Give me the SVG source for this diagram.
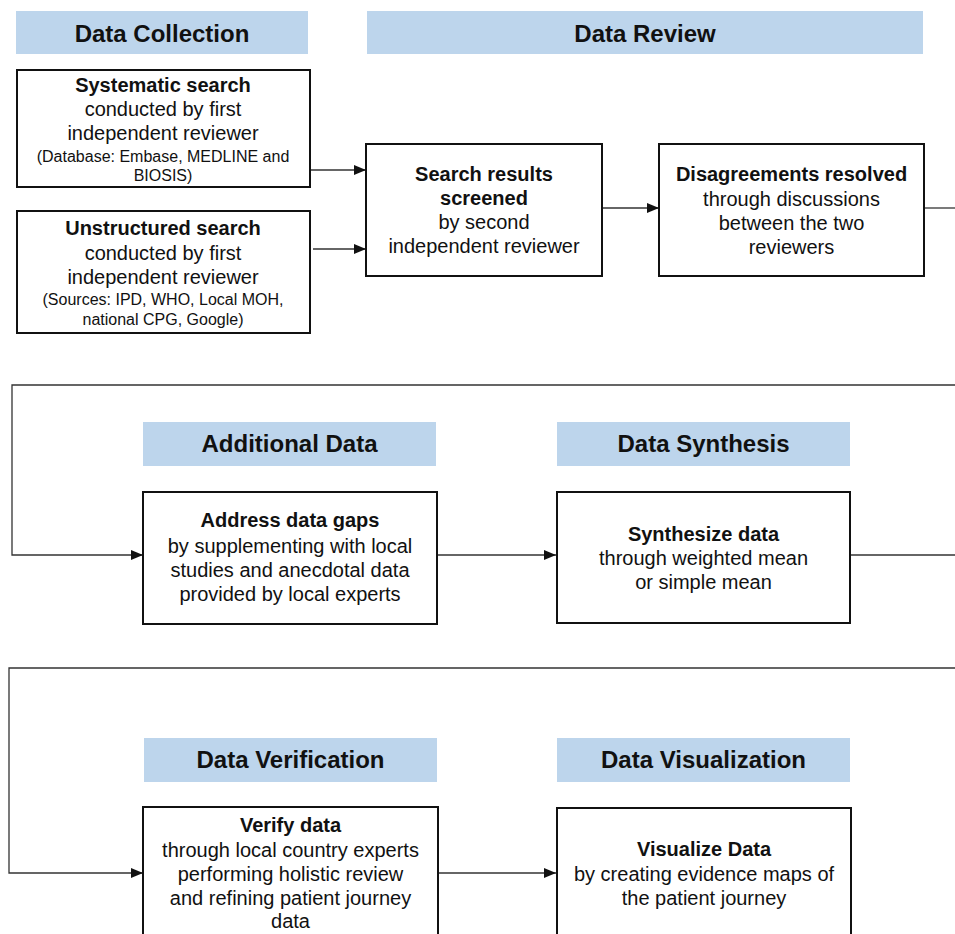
<svg xmlns="http://www.w3.org/2000/svg" width="955" height="934" viewBox="0 0 955 934">
<style>
.bn{fill:#bdd5ec;stroke:none}
.bx{fill:#fff;stroke:#111;stroke-width:2}
text{font-family:"Liberation Sans",Arial,sans-serif;fill:#111;text-anchor:middle}
.h{font-size:24px;font-weight:bold}
.t{font-size:20px;font-weight:bold}
.r{font-size:20px}
.s{font-size:16px}
.c{fill:none;stroke:#333;stroke-width:1.3}
</style>
<defs>
<marker id="ah" markerUnits="userSpaceOnUse" markerWidth="12" markerHeight="12" refX="12" refY="6" orient="auto">
<path d="M0,1 L12,6 L0,11 z" fill="#111"/>
</marker>
</defs>
<rect width="955" height="934" fill="#fff"/>
<g id="connectors">
<path class="c" d="M310,170 H366" marker-end="url(#ah)"/>
<path class="c" d="M313,249 H366" marker-end="url(#ah)"/>
<path class="c" d="M602,208 H659" marker-end="url(#ah)"/>
<path class="c" d="M924,208 H955"/>
<path class="c" d="M955,385 H12 V555 H143" marker-end="url(#ah)"/>
<path class="c" d="M437,555 H556" marker-end="url(#ah)"/>
<path class="c" d="M850,555 H955"/>
<path class="c" d="M955,668 H9 V873 H143" marker-end="url(#ah)"/>
<path class="c" d="M438,873 H556" marker-end="url(#ah)"/>
</g>
<g id="hdr-collection">
<rect class="bn" x="16" y="11" width="292" height="43"/>
<text class="h" x="162" y="42">Data Collection</text>
</g>
<g id="hdr-review">
<rect class="bn" x="367" y="11" width="556" height="43"/>
<text class="h" x="645" y="42">Data Review</text>
</g>
<g id="systematic">
<rect class="bx" x="17" y="70" width="293" height="117"/>
<text class="t" x="163" y="92">Systematic search</text>
<text class="r" x="163" y="116">conducted by first</text>
<text class="r" x="163" y="140">independent reviewer</text>
<text class="s" x="163" y="162">(Database: Embase, MEDLINE and</text>
<text class="s" x="163" y="181">BIOSIS)</text>
</g>
<g id="unstructured">
<rect class="bx" x="17" y="211" width="293" height="122"/>
<text class="t" x="163" y="235">Unstructured search</text>
<text class="r" x="163" y="260">conducted by first</text>
<text class="r" x="163" y="284">independent reviewer</text>
<text class="s" x="163" y="305">(Sources: IPD, WHO, Local MOH,</text>
<text class="s" x="163" y="325">national CPG, Google)</text>
</g>
<g id="screened">
<rect class="bx" x="366" y="144" width="236" height="132"/>
<text class="t" x="484" y="181">Search results</text>
<text class="t" x="484" y="205">screened</text>
<text class="r" x="484" y="229">by second</text>
<text class="r" x="484" y="253">independent reviewer</text>
</g>
<g id="disagreements">
<rect class="bx" x="659" y="144" width="265" height="132"/>
<text class="t" x="791.5" y="181">Disagreements resolved</text>
<text class="r" x="791.5" y="206">through discussions</text>
<text class="r" x="791.5" y="230">between the two</text>
<text class="r" x="791.5" y="254">reviewers</text>
</g>
<g id="hdr-additional">
<rect class="bn" x="143" y="422" width="293" height="44"/>
<text class="h" x="289.5" y="452">Additional Data</text>
</g>
<g id="address">
<rect class="bx" x="143" y="492" width="294" height="132"/>
<text class="t" x="290" y="527">Address data gaps</text>
<text class="r" x="290" y="553">by supplementing with local</text>
<text class="r" x="290" y="577">studies and anecdotal data</text>
<text class="r" x="290" y="601">provided by local experts</text>
</g>
<g id="hdr-synthesis">
<rect class="bn" x="557" y="422" width="293" height="44"/>
<text class="h" x="703.5" y="452">Data Synthesis</text>
</g>
<g id="synthesize">
<rect class="bx" x="557" y="492" width="293" height="131"/>
<text class="t" x="703.5" y="541">Synthesize data</text>
<text class="r" x="703.5" y="565">through weighted mean</text>
<text class="r" x="703.5" y="589">or simple mean</text>
</g>
<g id="hdr-verification">
<rect class="bn" x="144" y="738" width="293" height="44"/>
<text class="h" x="290.5" y="768">Data Verification</text>
</g>
<g id="verify">
<rect class="bx" x="143" y="807" width="295" height="140"/>
<text class="t" x="290.5" y="832">Verify data</text>
<text class="r" x="290.5" y="857">through local country experts</text>
<text class="r" x="290.5" y="881">performing holistic review</text>
<text class="r" x="290.5" y="905">and refining patient journey</text>
<text class="r" x="290.5" y="928">data</text>
</g>
<g id="hdr-visualization">
<rect class="bn" x="557" y="738" width="293" height="44"/>
<text class="h" x="703.5" y="768">Data Visualization</text>
</g>
<g id="visualize">
<rect class="bx" x="557" y="808" width="294" height="140"/>
<text class="t" x="704" y="856">Visualize Data</text>
<text class="r" x="704" y="881">by creating evidence maps of</text>
<text class="r" x="704" y="905">the patient journey</text>
</g>
</svg>
